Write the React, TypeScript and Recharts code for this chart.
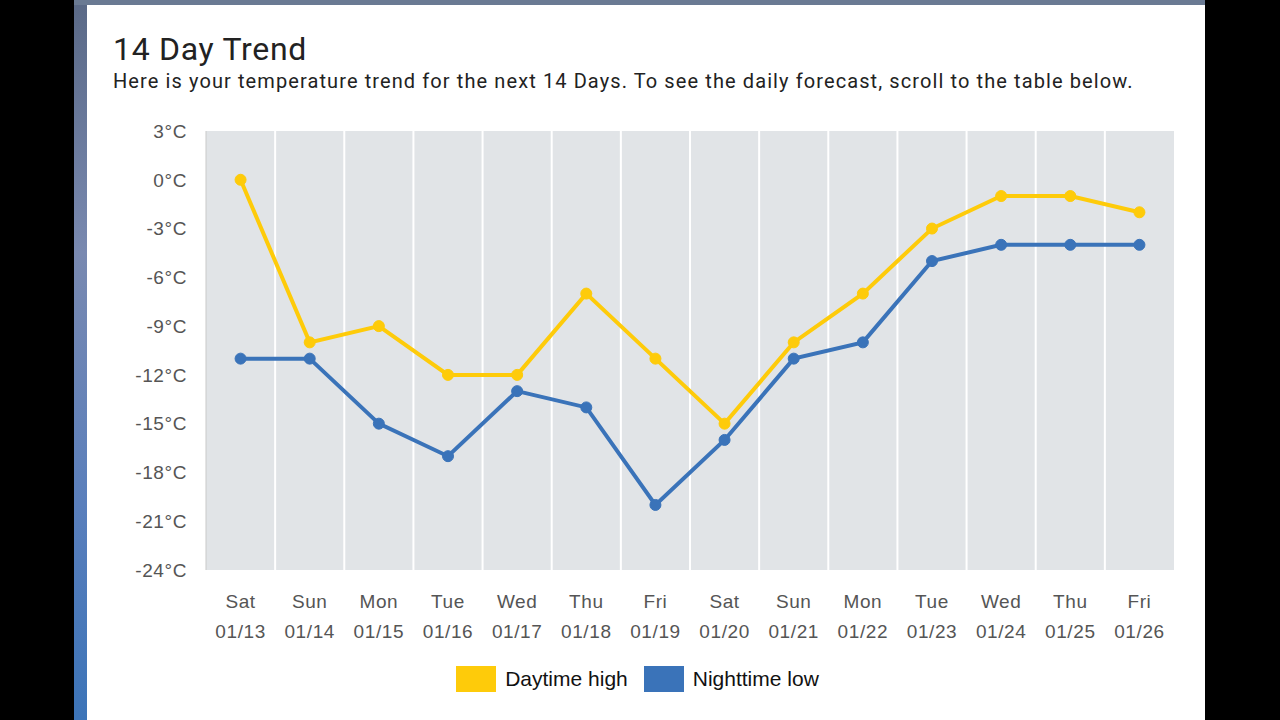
import React from 'react';
import { LineChart, Line, XAxis, YAxis, CartesianGrid, Legend } from 'recharts';

// days shown on the x axis (two lines per tick)
const days = ['Sat', 'Sun', 'Mon', 'Tue', 'Wed', 'Thu', 'Fri', 'Sat', 'Sun', 'Mon', 'Tue', 'Wed', 'Thu', 'Fri'];
const dates = ['01/13', '01/14', '01/15', '01/16', '01/17', '01/18', '01/19', '01/20', '01/21', '01/22', '01/23', '01/24', '01/25', '01/26'];

// temperatures in °C
const highs = [0, -10, -9, -12, -12, -7, -11, -15, -10, -7, -3, -1, -1, -2];
const lows = [-11, -11, -15, -17, -13, -14, -20, -16, -11, -10, -5, -4, -4, -4];

const yTicks = [3, 0, -3, -6, -9, -12, -15, -18, -21, -24];

const YELLOW = '#fecb0a';
const BLUE = '#3a73b9';
const AXIS_FONT = '"Liberation Sans", Arial, sans-serif';

const data = dates.map((d, i) => ({
  key: d,
  day: days[i],
  date: d,
  high: highs[i],
  low: lows[i]
}));

// two-line category tick: weekday on top, date below
const DayTick = (props: any) => {
  const { x, y, payload, index } = props;
  return (
    <g transform={`translate(${x},${y})`}>
      <text textAnchor="middle" fill="#555" fontSize={19} fontFamily={AXIS_FONT} letterSpacing={0.6}>
        <tspan x={0} y={38}>{days[index]}</tspan>
        <tspan x={0} y={68}>{payload.value}</tspan>
      </text>
    </g>
  );
};

const LegendContent = (props: any) => {
  const { payload } = props;
  return (
    <div style={{ height: 70, display: 'flex', justifyContent: 'center', alignItems: 'flex-start', paddingTop: 16, paddingLeft: 14, boxSizing: 'border-box' }}>
      {(payload || []).map((p: any) => (
        <div key={p.value} style={{ display: 'flex', alignItems: 'center', margin: '0 8px' }}>
          <span style={{ display: 'inline-block', width: 40, height: 26, background: p.color, marginRight: 9 }} />
          <span style={{ fontFamily: AXIS_FONT, fontSize: 21, color: '#111' }}>{p.value}</span>
        </div>
      ))}
    </div>
  );
};

// gridlines sit between the days, not on them
const bandEdges = ({ offset }: any) => {
  const step = offset.width / days.length;
  const out: number[] = [];
  for (let i = 1; i < days.length; i++) out.push(offset.left + step * i);
  return out;
};

export default function App() {
  return (
    <div style={{ position: 'fixed', left: 0, top: 0, width: 1280, height: 720, background: '#000', overflow: 'hidden' }}>
      <div style={{ position: 'absolute', left: 74, top: 0, width: 13, height: 720, background: 'linear-gradient(#5a6986 0%, #7989b0 35%, #5a7fbc 70%, #3c74b8 100%)' }} />
      <div style={{ position: 'absolute', left: 74, top: 0, width: 1131, height: 5, background: '#6a7a93' }} />
      <div style={{ position: 'absolute', left: 87, top: 5, width: 1118, height: 715, background: '#fff' }} />

      <div style={{ position: 'absolute', left: 113, top: 33, fontFamily: 'Roboto, sans-serif', fontSize: 32, lineHeight: 1, color: '#222', whiteSpace: 'nowrap', letterSpacing: 0.7 }}>
        14 Day Trend
      </div>
      <div style={{ position: 'absolute', left: 113, top: 71, fontFamily: 'Roboto, sans-serif', fontSize: 20, lineHeight: 1, color: '#222', whiteSpace: 'nowrap', letterSpacing: 1.1 }}>
        Here is your temperature trend for the next 14 Days. To see the daily forecast, scroll to the table below.
      </div>

      <div style={{ position: 'absolute', left: 87, top: 100 }}>
        <LineChart width={1118} height={620} data={data} margin={{ top: 31, right: 31, left: 0, bottom: 0 }}>
          <CartesianGrid
            horizontal={false}
            fill="#e1e4e7"
            stroke="#ffffff"
            strokeWidth={2}
            verticalCoordinatesGenerator={bandEdges}
          />
          <XAxis
            dataKey="date"
            scale="band"
            height={80}
            axisLine={false}
            tickLine={false}
            tickSize={0}
            tickMargin={0}
            interval={0}
            tick={<DayTick />}
          />
          <YAxis
            width={119}
            domain={[-24, 3]}
            ticks={yTicks}
            interval={0}
            tickFormatter={(v: number) => `${v}°C`}
            axisLine={{ stroke: '#c9c9c9' }}
            tickLine={false}
            tickSize={0}
            tickMargin={19}
            tick={{ fill: '#555', fontSize: 19, fontFamily: AXIS_FONT, letterSpacing: 0.6 }}
          />
          <Legend verticalAlign="bottom" content={<LegendContent />} />
          <Line
            type="linear"
            dataKey="high"
            name="Daytime high"
            stroke={YELLOW}
            strokeWidth={4}
            dot={{ r: 5.5, fill: YELLOW, stroke: YELLOW, strokeWidth: 1 }}
            isAnimationActive={false}
          />
          <Line
            type="linear"
            dataKey="low"
            name="Nighttime low"
            stroke={BLUE}
            strokeWidth={4}
            dot={{ r: 5.5, fill: BLUE, stroke: BLUE, strokeWidth: 1 }}
            isAnimationActive={false}
          />
        </LineChart>
      </div>
    </div>
  );
}
